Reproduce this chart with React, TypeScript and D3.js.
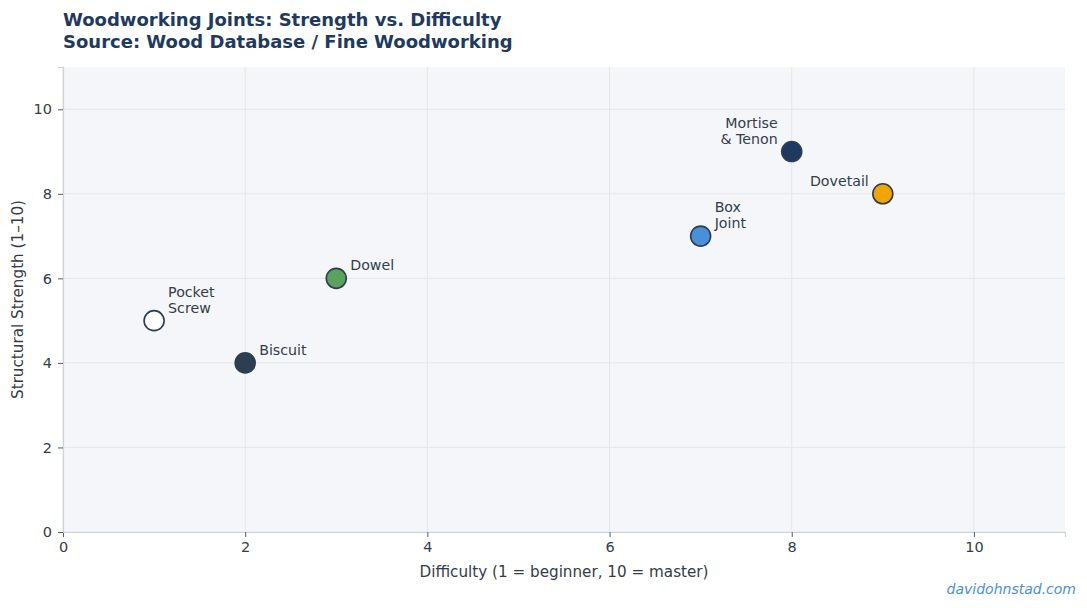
import { useEffect, useRef } from "react";
import * as d3 from "d3";

const joints = ["Pocket\nScrew", "Biscuit", "Dowel", "Box\nJoint", "Mortise\n& Tenon", "Dovetail"];
const difficulty = [1, 2, 3, 7, 8, 9];
const strength = [5, 4, 6, 7, 9, 8];
const fills = ["#ffffff", "#2c3e50", "#59a35f", "#4a90d9", "#1e3a5f", "#f0a500"];
const labelSide = ["right", "right", "right", "right", "left", "left"];
const ticks = [0, 2, 4, 6, 8, 10];

function App() {
    const svgRef = useRef<SVGSVGElement | null>(null);

    useEffect(() => {
        if (!svgRef.current) return;

        const width = 1087;
        const height = 608;
        const margin = { top: 67, right: 22, bottom: 76, left: 63 };
        const font = "DejaVu Sans, sans-serif";
        const textColor = "#333d4a";

        const svg = d3.select(svgRef.current).attr("width", width).attr("height", height);
        svg.selectAll("*").remove();

        const x = d3.scaleLinear().domain([0, 11]).range([margin.left, width - margin.right]);
        const y = d3.scaleLinear().domain([0, 11]).range([height - margin.bottom, margin.top]);

        svg.append("rect").attr("width", width).attr("height", height).attr("fill", "#ffffff");

        svg
            .append("rect")
            .attr("x", x(0))
            .attr("y", y(11))
            .attr("width", x(11) - x(0))
            .attr("height", y(0) - y(11))
            .attr("fill", "#f4f6fa");

        // grid
        svg
            .selectAll("line.gx")
            .data(ticks)
            .join("line")
            .attr("class", "gx")
            .attr("x1", (d) => x(d))
            .attr("x2", (d) => x(d))
            .attr("y1", y(0))
            .attr("y2", y(11))
            .attr("stroke", "#e3e6ec")
            .attr("stroke-width", 1);
        svg
            .selectAll("line.gy")
            .data(ticks)
            .join("line")
            .attr("class", "gy")
            .attr("y1", (d) => y(d))
            .attr("y2", (d) => y(d))
            .attr("x1", x(0))
            .attr("x2", x(11))
            .attr("stroke", "#e3e6ec")
            .attr("stroke-width", 1);

        // axes
        const xAxis = svg
            .append("g")
            .attr("transform", `translate(0,${y(0)})`)
            .call(d3.axisBottom(x).tickValues(ticks).tickSize(5).tickPadding(5).tickFormat(d3.format("d")));
        const yAxis = svg
            .append("g")
            .attr("transform", `translate(${x(0)},0)`)
            .call(d3.axisLeft(y).tickValues(ticks).tickSize(5).tickPadding(6).tickFormat(d3.format("d")));

        [xAxis, yAxis].forEach((g) => {
            g.select(".domain").attr("stroke", "#cfd3da").attr("stroke-width", 1.2);
            g.selectAll(".tick line").attr("stroke", "#555f6b");
            g.selectAll(".tick text")
                .attr("fill", textColor)
                .style("font-family", font)
                .style("font-size", "14.5px");
        });

        // points
        const idx = d3.range(joints.length);
        svg
            .selectAll("circle.pt")
            .data(idx)
            .join("circle")
            .attr("class", "pt")
            .attr("cx", (i) => x(difficulty[i]))
            .attr("cy", (i) => y(strength[i]))
            .attr("r", 10)
            .attr("fill", (i) => fills[i])
            .attr("stroke", "#2c3e50")
            .attr("stroke-width", 1.6);

        // labels
        idx.forEach((i) => {
            const lines = joints[i].split("\n");
            const right = labelSide[i] === "right";
            const t = svg
                .append("text")
                .attr("x", x(difficulty[i]) + (right ? 14 : -14))
                .attr("y", y(strength[i]) - 8 - (lines.length - 1) * 16)
                .attr("text-anchor", right ? "start" : "end")
                .attr("fill", textColor)
                .style("font-family", font)
                .style("font-size", "14.2px");
            lines.forEach((line, k) => {
                t.append("tspan")
                    .attr("x", x(difficulty[i]) + (right ? 14 : -14))
                    .attr("dy", k === 0 ? 0 : 16)
                    .text(line);
            });
        });

        // titles
        const title = svg
            .append("text")
            .attr("x", x(0))
            .attr("fill", "#1e3a5f")
            .style("font-family", font)
            .style("font-size", "18px")
            .style("font-weight", "bold");
        title.append("tspan").attr("x", x(0)).attr("y", 26).text("Woodworking Joints: Strength vs. Difficulty");
        title.append("tspan").attr("x", x(0)).attr("y", 48).text("Source: Wood Database / Fine Woodworking");

        svg
            .append("text")
            .attr("x", (x(0) + x(11)) / 2)
            .attr("y", 577)
            .attr("text-anchor", "middle")
            .attr("fill", textColor)
            .style("font-family", font)
            .style("font-size", "15.2px")
            .text("Difficulty (1 = beginner, 10 = master)");

        svg
            .append("text")
            .attr("transform", `translate(23,${(y(0) + y(11)) / 2}) rotate(-90)`)
            .attr("text-anchor", "middle")
            .attr("fill", textColor)
            .style("font-family", font)
            .style("font-size", "15.2px")
            .text("Structural Strength (1–10)");

        svg
            .append("text")
            .attr("x", 1076)
            .attr("y", 594)
            .attr("text-anchor", "end")
            .attr("fill", "#4a90d9")
            .style("font-family", font)
            .style("font-size", "14px")
            .style("font-style", "italic")
            .text("davidohnstad.com");
    }, []);

    return (
        <div style={{ margin: -8 }}>
            <svg ref={svgRef} style={{ display: "block" }}></svg>
        </div>
    );
}

export default App;
